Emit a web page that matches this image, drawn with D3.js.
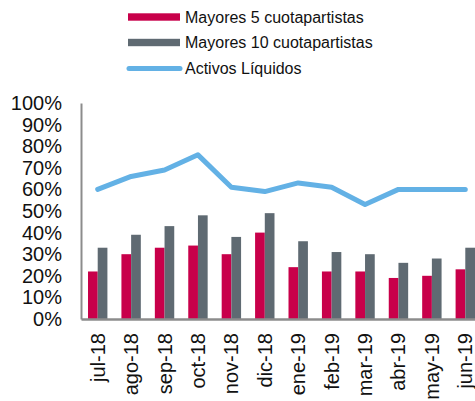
<!DOCTYPE html>
<html>
<head>
<meta charset="utf-8">
<script src="https://cdn.jsdelivr.net/npm/d3@7"></script>
<style>
  body { margin: 0; background: #fff; }
  text { font-family: 'Liberation Sans', Arial, sans-serif; fill: #111; }
</style>
</head>
<body>
<div id="chart"></div>
<script>
const months = ['jul-18', 'ago-18', 'sep-18', 'oct-18', 'nov-18', 'dic-18', 'ene-19', 'feb-19', 'mar-19', 'abr-19', 'may-19', 'jun-19']
const top5 = [22, 30, 33, 34, 30, 40, 24, 22, 22, 19, 20, 23]
const top10 = [33, 39, 43, 48, 38, 49, 36, 31, 30, 26, 28, 33]
const liquidos = [60, 66, 69, 76, 61, 59, 63, 61, 53, 60, 60, 60]
const yTicks = [0, 10, 20, 30, 40, 50, 60, 70, 80, 90, 100]
const seriesNames = ['Mayores 5 cuotapartistas', 'Mayores 10 cuotapartistas', 'Activos Líquidos']

const colors = { red: '#c8004a', grey: '#5f6a72', blue: '#63b1e5', axis: '#8c8c8c' }

const width = 475
const height = 401
const margin = { top: 103, left: 81, right: -7, bottom: 82 }

const svg = d3
  .select('#chart')
  .append('svg')
  .attr('width', width)
  .attr('height', height)

const x = d3
  .scaleBand()
  .domain(months)
  .range([margin.left, width - margin.right])

const yScale = d3
  .scaleLinear()
  .domain([0, 100])
  .range([height - margin.bottom, margin.top])

const barW = 9.7

// bars
const g = svg.append('g')
g.selectAll('.b5')
  .data(months)
  .enter()
  .append('rect')
  .attr('x', d => x(d) + x.bandwidth() / 2 - barW)
  .attr('width', barW)
  .attr('y', (d, i) => yScale(top5[i]))
  .attr('height', (d, i) => yScale(0) - yScale(top5[i]))
  .attr('fill', colors.red)

g.selectAll('.b10')
  .data(months)
  .enter()
  .append('rect')
  .attr('x', d => x(d) + x.bandwidth() / 2)
  .attr('width', barW)
  .attr('y', (d, i) => yScale(top10[i]))
  .attr('height', (d, i) => yScale(0) - yScale(top10[i]))
  .attr('fill', colors.grey)

// line
const line = d3
  .line()
  .x(d => x(d.m) + x.bandwidth() / 2)
  .y(d => yScale(d.v))

svg
  .append('path')
  .datum(months.map((m, i) => ({ m: m, v: liquidos[i] })))
  .attr('d', line)
  .attr('fill', 'none')
  .attr('stroke', colors.blue)
  .attr('stroke-width', 5)
  .attr('stroke-linecap', 'round')
  .attr('stroke-linejoin', 'round')

// y axis
const yAxis = d3
  .axisLeft(yScale)
  .tickValues(yTicks)
  .tickSize(0)
  .tickPadding(19)
  .tickFormat(d => d + '%')
svg
  .append('g')
  .attr('class', 'y-axis')
  .attr('transform', 'translate(' + margin.left + ',0)')
  .call(yAxis)
svg.selectAll('.y-axis path').attr('stroke', colors.axis).attr('stroke-width', 2)
svg.selectAll('.y-axis text').style('font-size', '20px')

// x axis
const xAxis = d3.axisBottom(x).tickSize(0).tickPadding(0)
svg
  .append('g')
  .attr('class', 'x-axis')
  .attr('transform', 'translate(0,' + yScale(0) + ')')
  .call(xAxis)
svg.selectAll('.x-axis path').attr('stroke', colors.axis).attr('stroke-width', 2.5)
svg
  .selectAll('.x-axis text')
  .style('font-size', '20px')
  .attr('text-anchor', 'end')
  .attr('dy', '0.35em')
  .attr('transform', 'translate(0,14) rotate(-90)')
  .attr('y', 0)
  .attr('x', 0)

// legend
const legend = svg.append('g').attr('transform', 'translate(128,17)')
const rowH = 25.5
seriesNames.forEach((name, i) => {
  const row = legend.append('g').attr('transform', 'translate(0,' + i * rowH + ')')
  if (i < 2) {
    row
      .append('rect')
      .attr('x', 0)
      .attr('y', -3.7)
      .attr('width', 52)
      .attr('height', 7.4)
      .attr('fill', i === 0 ? colors.red : colors.grey)
  } else {
    row
      .append('line')
      .attr('x1', 1)
      .attr('x2', 52)
      .attr('y1', 0.5)
      .attr('y2', 0.5)
      .attr('stroke', colors.blue)
      .attr('stroke-width', 5)
      .attr('stroke-linecap', 'round')
  }
  row
    .append('text')
    .attr('x', 57)
    .attr('y', 0)
    .attr('dy', '0.35em')
    .text(name)
    .style('font-size', '16px')
})
</script>
</body>
</html>
